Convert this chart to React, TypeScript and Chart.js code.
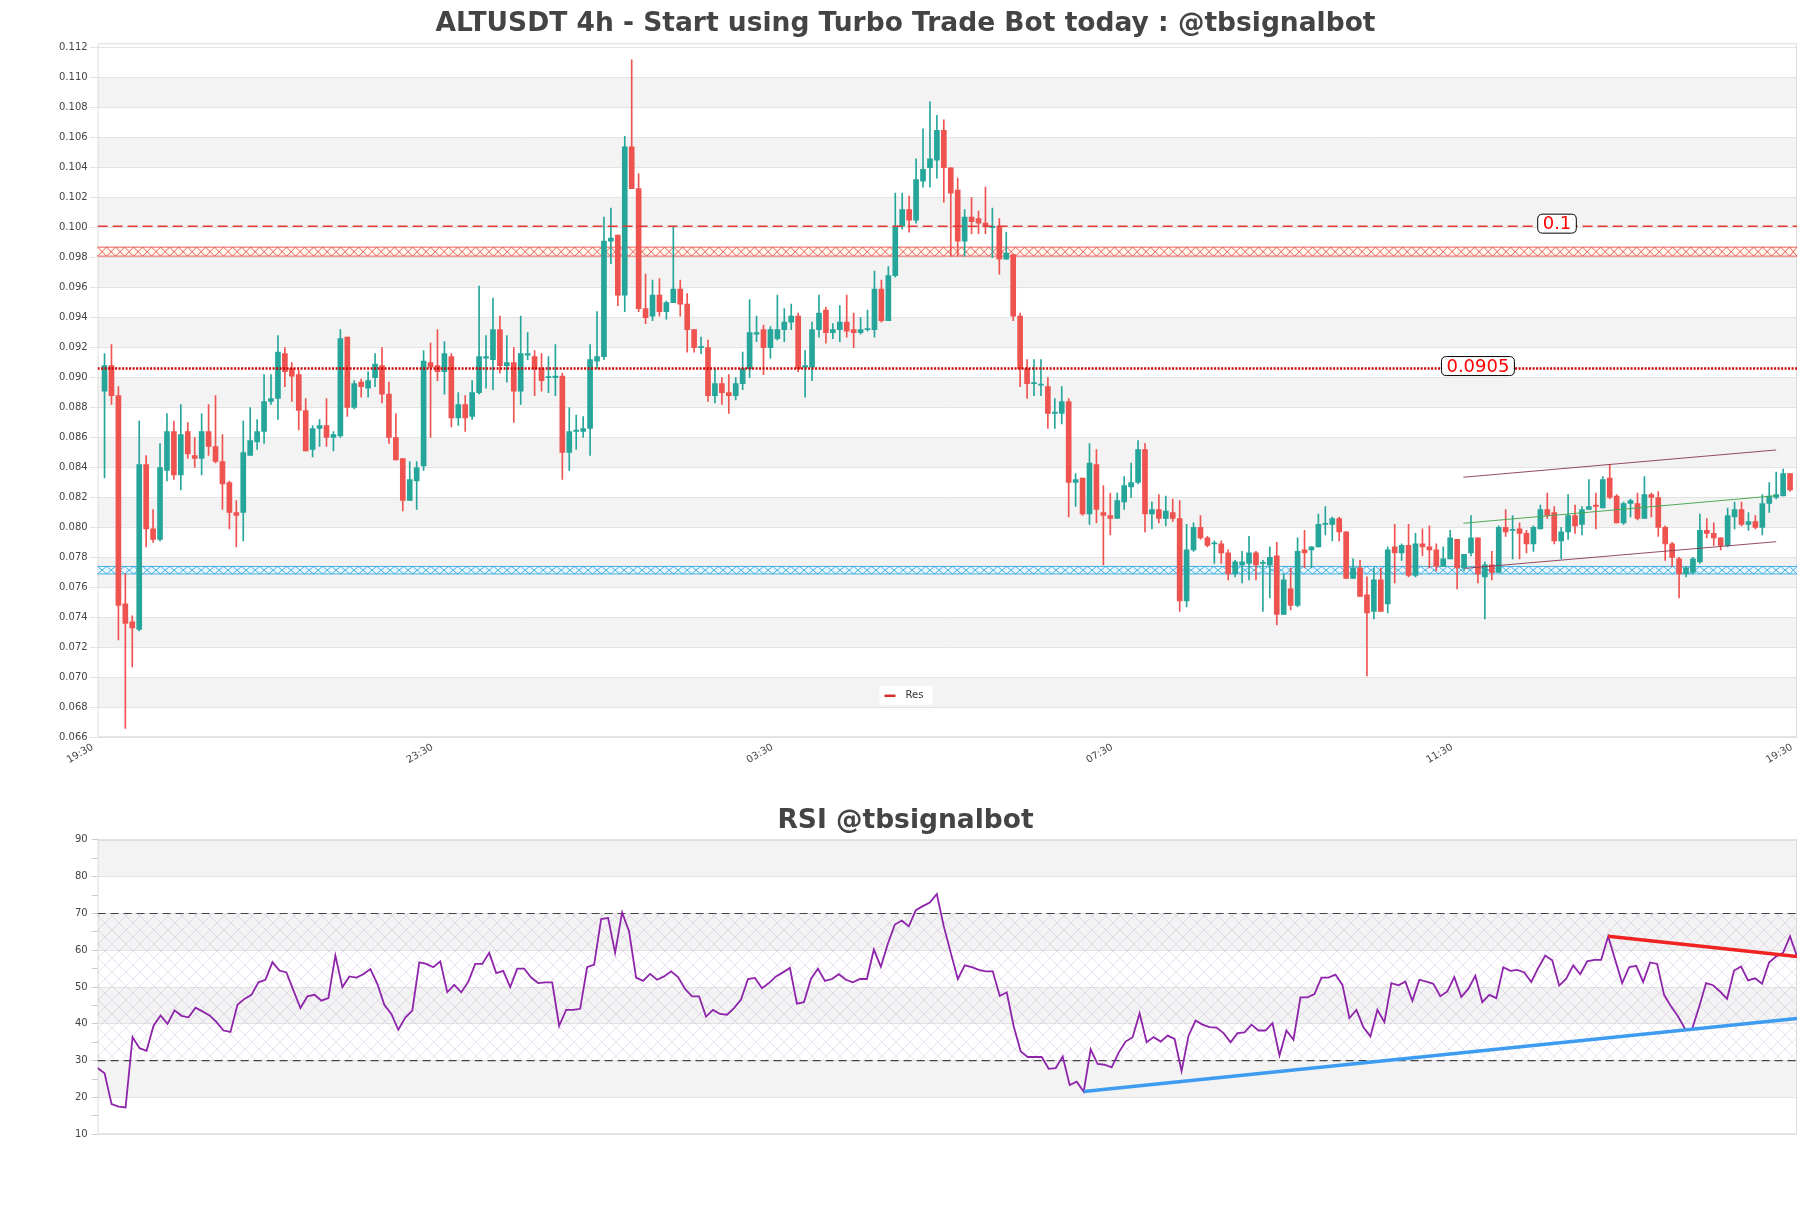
import React, { useEffect, useRef } from 'react';
import Chart from 'chart.js/auto';

const FONT = '"DejaVu Sans", "Liberation Sans", sans-serif';
const TITLE = 'ALTUSDT 4h - Start using Turbo Trade Bot today : @tbsignalbot';
const RSI_TITLE = 'RSI @tbsignalbot';

const GREEN = '#26a69a';
const RED = '#ef5350';

// x axis tick labels (placed at axis positions; candles sit at 1..N)
const xTickLabels = ['19:30', '23:30', '03:30', '07:30', '11:30', '19:30'];
const xTickPositions = [0, 49, 98, 147, 196, 245];

const priceTicks = [0.066, 0.068, 0.07, 0.072, 0.074, 0.076, 0.078, 0.08, 0.082, 0.084, 0.086, 0.088, 0.09, 0.092, 0.094, 0.096, 0.098, 0.1, 0.102, 0.104, 0.106, 0.108, 0.11, 0.112];
const rsiTicks = [10, 20, 30, 40, 50, 60, 70, 80, 90];

const opens = [
  0.0891, 0.0908, 0.0888, 0.0749, 0.0737, 0.0732, 0.0842, 0.0799, 0.0792, 0.0838,
  0.0864, 0.0835, 0.0864, 0.0848, 0.0846, 0.0864, 0.0854, 0.0844, 0.0830, 0.0810,
  0.0810, 0.0848, 0.0857, 0.0864, 0.0884, 0.0886, 0.0916, 0.0906, 0.0902, 0.0878,
  0.0852, 0.0866, 0.0868, 0.0860, 0.0861, 0.0927, 0.0880, 0.0897, 0.0893, 0.0900,
  0.0908, 0.0889, 0.0860, 0.0846, 0.0818, 0.0831, 0.0841, 0.0910, 0.0908, 0.0904,
  0.0914, 0.0873, 0.0882, 0.0874, 0.0890, 0.0913, 0.0912, 0.0932, 0.0908, 0.0910,
  0.0891, 0.0915, 0.0914, 0.0906, 0.0900, 0.0900, 0.0901, 0.0850, 0.0864, 0.0864,
  0.0866, 0.0911, 0.0914, 0.0991, 0.0995, 0.0955, 0.1054, 0.1026, 0.0946, 0.0941,
  0.0955, 0.0944, 0.0950, 0.0959, 0.0949, 0.0932, 0.0920, 0.0920, 0.0888, 0.0896,
  0.0890, 0.0888, 0.0896, 0.0906, 0.0929, 0.0932, 0.0920, 0.0926, 0.0932, 0.0937,
  0.0941, 0.0907, 0.0907, 0.0932, 0.0945, 0.0930, 0.0932, 0.0937, 0.0932, 0.0930,
  0.0932, 0.0932, 0.0959, 0.0938, 0.0968, 0.1001, 0.1012, 0.1005, 0.1031, 0.1040,
  0.1045, 0.1065, 0.1040, 0.1025, 0.0991, 0.1007, 0.1006, 0.1003, 0.1000, 0.1001,
  0.0979, 0.0982, 0.0941, 0.0906, 0.0896, 0.0895, 0.0894, 0.0876, 0.0876, 0.0884,
  0.0830, 0.0833, 0.0809, 0.0842, 0.0810, 0.0808, 0.0806, 0.0817, 0.0827, 0.0830,
  0.0852, 0.0809, 0.0812, 0.0806, 0.0810, 0.0806, 0.0751, 0.0785, 0.0800, 0.0793,
  0.0789, 0.0789, 0.0783, 0.0769, 0.0775, 0.0776, 0.0783, 0.0776, 0.0775, 0.0781,
  0.0742, 0.0759, 0.0748, 0.0785, 0.0785, 0.0787, 0.0802, 0.0802, 0.0806, 0.0797,
  0.0766, 0.0773, 0.0755, 0.0744, 0.0765, 0.0749, 0.0787, 0.0783, 0.0788, 0.0768,
  0.0789, 0.0787, 0.0785, 0.0774, 0.0779, 0.0792, 0.0773, 0.0783, 0.0793, 0.0767,
  0.0775, 0.0770, 0.0800, 0.0798, 0.0799, 0.0796, 0.0789, 0.0799, 0.0812, 0.0810,
  0.0791, 0.0797, 0.0808, 0.0802, 0.0812, 0.0815, 0.0813, 0.0833, 0.0821, 0.0803,
  0.0816, 0.0816, 0.0806, 0.0822, 0.0820, 0.0800, 0.0789, 0.0779, 0.0769, 0.0770,
  0.0777, 0.0798, 0.0796, 0.0793, 0.0788, 0.0807, 0.0812, 0.0802, 0.0804, 0.0800,
  0.0816, 0.0820, 0.0821, 0.0836,
];

const highs = [
  0.0916, 0.0922, 0.0894, 0.0769, 0.0741, 0.0871, 0.0848, 0.0812, 0.0856, 0.0876,
  0.0871, 0.0882, 0.0870, 0.0860, 0.0876, 0.0882, 0.0888, 0.0862, 0.0831, 0.0818,
  0.0871, 0.0880, 0.0872, 0.0902, 0.0902, 0.0928, 0.0920, 0.0910, 0.0905, 0.0886,
  0.0868, 0.0872, 0.0886, 0.0864, 0.0932, 0.0927, 0.0898, 0.0899, 0.0904, 0.0916,
  0.0920, 0.0897, 0.0876, 0.0846, 0.0844, 0.0844, 0.0918, 0.0923, 0.0932, 0.0924,
  0.0916, 0.0890, 0.0888, 0.0898, 0.0961, 0.0928, 0.0953, 0.0941, 0.0928, 0.0920,
  0.0941, 0.0930, 0.0918, 0.0916, 0.0914, 0.0922, 0.0903, 0.0880, 0.0875, 0.0874,
  0.0922, 0.0944, 0.1007, 0.1013, 0.0995, 0.1061, 0.1112, 0.1036, 0.0969, 0.0965,
  0.0966, 0.0951, 0.1001, 0.0965, 0.0956, 0.0932, 0.0927, 0.0925, 0.0906, 0.0900,
  0.0902, 0.0900, 0.0917, 0.0952, 0.0941, 0.0935, 0.0934, 0.0955, 0.0946, 0.0949,
  0.0943, 0.0918, 0.0937, 0.0955, 0.0947, 0.0936, 0.0948, 0.0955, 0.0943, 0.0940,
  0.0945, 0.0971, 0.0965, 0.0974, 0.1023, 0.1023, 0.1021, 0.1046, 0.1066, 0.1084,
  0.1075, 0.1072, 0.1040, 0.1033, 0.1012, 0.1020, 0.1011, 0.1027, 0.1013, 0.1006,
  0.0997, 0.0982, 0.0943, 0.0912, 0.0912, 0.0912, 0.0900, 0.0886, 0.0894, 0.0886,
  0.0836, 0.0833, 0.0856, 0.0852, 0.0828, 0.0823, 0.0823, 0.0834, 0.0843, 0.0858,
  0.0856, 0.0817, 0.0822, 0.0821, 0.0819, 0.0818, 0.0802, 0.0803, 0.0808, 0.0794,
  0.0791, 0.0791, 0.0785, 0.0778, 0.0784, 0.0794, 0.0784, 0.0778, 0.0787, 0.0790,
  0.0769, 0.0773, 0.0793, 0.0798, 0.0787, 0.0809, 0.0814, 0.0807, 0.0807, 0.0797,
  0.0779, 0.0778, 0.0767, 0.0773, 0.0773, 0.0787, 0.0802, 0.0789, 0.0802, 0.0796,
  0.0799, 0.0801, 0.0789, 0.0787, 0.0798, 0.0792, 0.0782, 0.0808, 0.0793, 0.0777,
  0.0784, 0.0801, 0.0812, 0.0808, 0.0803, 0.0798, 0.0801, 0.0815, 0.0823, 0.0814,
  0.0800, 0.0822, 0.0815, 0.0814, 0.0832, 0.0823, 0.0834, 0.0842, 0.0822, 0.0817,
  0.0819, 0.0823, 0.0834, 0.0823, 0.0824, 0.0801, 0.0790, 0.0780, 0.0774, 0.0780,
  0.0809, 0.0806, 0.0803, 0.0793, 0.0813, 0.0817, 0.0817, 0.0810, 0.0808, 0.0822,
  0.0830, 0.0837, 0.0839, 0.0836,
];

const lows = [
  0.0833, 0.0882, 0.0725, 0.0666, 0.0707, 0.0731, 0.0787, 0.0790, 0.0791, 0.0831,
  0.0832, 0.0825, 0.0846, 0.0840, 0.0835, 0.0848, 0.0843, 0.0812, 0.0799, 0.0787,
  0.0791, 0.0848, 0.0852, 0.0856, 0.0882, 0.0872, 0.0894, 0.0884, 0.0865, 0.0851,
  0.0847, 0.0854, 0.0854, 0.0851, 0.0860, 0.0874, 0.0879, 0.0887, 0.0887, 0.0894,
  0.0883, 0.0856, 0.0845, 0.0811, 0.0818, 0.0812, 0.0838, 0.0860, 0.0898, 0.0889,
  0.0867, 0.0868, 0.0864, 0.0872, 0.0889, 0.0893, 0.0892, 0.0903, 0.0897, 0.0870,
  0.0882, 0.0912, 0.0888, 0.0891, 0.0890, 0.0888, 0.0832, 0.0838, 0.0852, 0.0860,
  0.0848, 0.0906, 0.0912, 0.0976, 0.0948, 0.0944, 0.1026, 0.0944, 0.0936, 0.0938,
  0.0941, 0.0939, 0.0950, 0.0941, 0.0917, 0.0917, 0.0916, 0.0884, 0.0883, 0.0882,
  0.0876, 0.0885, 0.0892, 0.0900, 0.0924, 0.0902, 0.0913, 0.0925, 0.0924, 0.0932,
  0.0904, 0.0887, 0.0898, 0.0927, 0.0923, 0.0926, 0.0924, 0.0927, 0.0920, 0.0929,
  0.0931, 0.0927, 0.0937, 0.0938, 0.0967, 0.0999, 0.0997, 0.1003, 0.1027, 0.1027,
  0.1033, 0.1017, 0.0981, 0.0981, 0.0981, 0.0996, 0.0996, 0.0996, 0.0980, 0.0969,
  0.0979, 0.0938, 0.0894, 0.0886, 0.0888, 0.0888, 0.0866, 0.0866, 0.0869, 0.0807,
  0.0814, 0.0808, 0.0802, 0.0803, 0.0775, 0.0795, 0.0806, 0.0812, 0.0820, 0.0829,
  0.0797, 0.0799, 0.0803, 0.0801, 0.0804, 0.0744, 0.0747, 0.0784, 0.0792, 0.0787,
  0.0776, 0.0776, 0.0765, 0.0767, 0.0763, 0.0765, 0.0765, 0.0744, 0.0753, 0.0735,
  0.0742, 0.0745, 0.0747, 0.0773, 0.0773, 0.0787, 0.0795, 0.0791, 0.0791, 0.0766,
  0.0766, 0.0754, 0.0701, 0.0739, 0.0744, 0.0743, 0.0763, 0.0778, 0.0767, 0.0767,
  0.0781, 0.0773, 0.0771, 0.0774, 0.0779, 0.0759, 0.0771, 0.0781, 0.0763, 0.0739,
  0.0765, 0.0770, 0.0794, 0.0779, 0.0779, 0.0783, 0.0784, 0.0799, 0.0806, 0.0789,
  0.0779, 0.0792, 0.0796, 0.0795, 0.0812, 0.0799, 0.0813, 0.0819, 0.0803, 0.0802,
  0.0807, 0.0805, 0.0806, 0.0807, 0.0794, 0.0778, 0.0774, 0.0753, 0.0767, 0.0769,
  0.0776, 0.0793, 0.0788, 0.0785, 0.0787, 0.0799, 0.0801, 0.0798, 0.0799, 0.0795,
  0.0810, 0.0819, 0.0821, 0.0824,
];

const closes = [
  0.0908, 0.0888, 0.0748, 0.0736, 0.0733, 0.0842, 0.0799, 0.0792, 0.0840, 0.0864,
  0.0835, 0.0862, 0.0849, 0.0846, 0.0864, 0.0854, 0.0844, 0.0829, 0.0810, 0.0808,
  0.0850, 0.0858, 0.0864, 0.0884, 0.0886, 0.0917, 0.0904, 0.0901, 0.0878, 0.0851,
  0.0866, 0.0868, 0.0860, 0.0862, 0.0926, 0.0880, 0.0896, 0.0894, 0.0898, 0.0909,
  0.0889, 0.0860, 0.0845, 0.0818, 0.0832, 0.0840, 0.0911, 0.0907, 0.0904, 0.0916,
  0.0873, 0.0882, 0.0873, 0.0890, 0.0914, 0.0914, 0.0932, 0.0908, 0.0910, 0.0891,
  0.0916, 0.0916, 0.0906, 0.0898, 0.09005, 0.0901, 0.0850, 0.0864, 0.0865, 0.0866,
  0.0912, 0.0914, 0.0991, 0.0993, 0.0955, 0.1054, 0.1026, 0.0946, 0.0940, 0.0955,
  0.0944, 0.0950, 0.0959, 0.0949, 0.0932, 0.0920, 0.09205, 0.0888, 0.0896, 0.0890,
  0.0888, 0.0896, 0.0906, 0.0930, 0.0930, 0.0920, 0.0932, 0.0932, 0.0937, 0.0941,
  0.0906, 0.0908, 0.0932, 0.0943, 0.0930, 0.0932, 0.0937, 0.0931, 0.0930, 0.0932,
  0.09325, 0.0959, 0.0938, 0.0968, 0.1001, 0.1012, 0.1005, 0.1032, 0.1039, 0.1046,
  0.1065, 0.1040, 0.1023, 0.0991, 0.1007, 0.1004, 0.1003, 0.1001, 0.1001, 0.0979,
  0.0983, 0.0941, 0.0906, 0.0896, 0.08965, 0.08955, 0.0876, 0.0877, 0.0884, 0.0830,
  0.0832, 0.0809, 0.0843, 0.0812, 0.0808, 0.0806, 0.0818, 0.0828, 0.0830, 0.0852,
  0.0809, 0.0812, 0.0806, 0.0811, 0.0806, 0.0751, 0.0785, 0.0800, 0.0793, 0.0788,
  0.07895, 0.0783, 0.0769, 0.0777, 0.0777, 0.0783, 0.0775, 0.07765, 0.0780, 0.0742,
  0.0765, 0.0748, 0.0784, 0.0783, 0.0787, 0.0802, 0.08025, 0.0806, 0.0797, 0.0766,
  0.0773, 0.0754, 0.0743, 0.0765, 0.0744, 0.0785, 0.0783, 0.0788, 0.0768, 0.0789,
  0.0787, 0.0785, 0.0774, 0.0779, 0.0793, 0.0773, 0.0782, 0.0793, 0.0769, 0.0775,
  0.0770, 0.0800, 0.0797, 0.07985, 0.0796, 0.0789, 0.0800, 0.0812, 0.0808, 0.0791,
  0.0797, 0.0808, 0.0801, 0.0812, 0.0814, 0.0814, 0.0832, 0.0820, 0.0803, 0.0816,
  0.0818, 0.0806, 0.0822, 0.0820, 0.0800, 0.0789, 0.0780, 0.0769, 0.0773, 0.0779,
  0.0798, 0.0796, 0.0793, 0.0788, 0.0808, 0.0812, 0.0802, 0.0804, 0.0800, 0.0816,
  0.0821, 0.0822, 0.0836, 0.0825,
];

const rsiValues = [
  28, 26.6, 18.2, 17.5, 17.3, 36.4, 33.4, 32.7, 39.5, 42.3,
  40, 43.7, 42.2, 41.8, 44.4, 43.4, 42.3, 40.5, 38.2, 37.8,
  45.2, 46.8, 47.9, 51.3, 52.0, 56.8, 54.5, 54.0, 49.1, 44.3,
  47.5, 47.9, 46.3, 47.0, 58.6, 50.0, 52.9, 52.6, 53.5, 54.9,
  50.9, 45.2, 42.7, 38.4, 41.7, 43.6, 56.7, 56.3, 55.4, 57.0,
  48.6, 50.6, 48.6, 51.4, 56.3, 56.3, 59.3, 53.8, 54.4, 50.0,
  55.0, 55.0, 52.6, 51.1, 51.3, 51.3, 39.5, 43.8, 43.8, 44.1,
  55.4, 56.1, 68.5, 68.8, 59.3, 70.3, 65.1, 52.6, 51.7, 53.6,
  52.0, 52.9, 54.3, 52.7, 49.5, 47.5, 47.5, 42.0, 43.8, 42.7,
  42.5, 44.3, 46.6, 52.2, 52.5, 49.7, 51.1, 52.9, 54.0, 55.2,
  45.5, 45.9, 52.2, 55.0, 51.7, 52.2, 53.5, 52.0, 51.3, 52.2,
  52.2, 60.2, 55.5, 61.8, 67.0, 68.1,
  66.5, 70.9, 72.0, 73.0, 75.3, 66.5, 59.3, 52.2, 55.9, 55.4,
  54.7, 54.3, 54.3, 47.6, 48.6, 39.3, 32.5, 31.0, 31.0, 31.0,
  27.8, 28.0, 31.1, 23.4, 24.3, 21.6, 33.1, 29.1, 28.9, 28.2,
  32.2, 35.2, 36.4, 42.9, 35.0, 36.4, 35.2, 36.8, 35.9, 27.2,
  36.8, 40.9, 39.8, 39.1, 39.0, 37.5, 35.0, 37.5, 37.7, 39.8,
  38.2, 38.2, 40.2, 31.4, 38.2, 35.7, 47.2, 47.2, 48.1, 52.6,
  52.6, 53.4, 50.6, 41.6, 43.8, 39.1, 36.6, 43.8, 40.5, 51.1,
  50.5, 51.5, 46.3, 52.0, 51.5, 50.9, 47.5, 48.8, 52.7, 47.3,
  49.5, 53.1, 45.9, 47.9, 47.0, 55.4, 54.4, 54.7, 54.0, 51.4,
  55.2, 58.6, 57.3, 50.4, 52.3, 55.9, 53.5, 57.0, 57.4, 57.4,
  63.8, 57.4, 51.1, 55.4, 55.8, 51.4, 56.7, 56.3, 47.9, 44.7,
  42.0, 38.6, 38.6, 44.6, 51.1, 50.5, 48.8, 46.8, 54.5, 55.6,
  51.8, 52.4, 50.9, 56.7, 58.3, 59.3, 63.8, 58.3,
];

// levels and zones
const resLevel = 0.1001;
const midLevel = 0.0906;
const resZone = [0.0981, 0.0987];
const supZone = [0.0769, 0.0774];
const levelTags = [
  { text: '0.1', x: 210.4, y: 0.1001 },
  { text: '0.0905', x: 199.0, y: 0.0906 },
];
const channelUpper = [[196.9, 0.08335], [242, 0.08517]];
const channelMid = [[196.9, 0.08028], [242, 0.08212]];
const channelLower = [[197.1, 0.07727], [242, 0.07905]];
const rsiDownTrend = [[216, 63.8], [243, 58.3]];
const rsiUpTrend = [[141, 21.6], [243, 41.5]];
const rsiLevels = [70, 30];
const rsiZone = [30, 70];

const toPts = (arr: number[][]) => arr.map(([x, y]) => ({ x, y }));

function stripes(chart: any, ticks: number[]) {
  const { ctx, chartArea, scales } = chart;
  const y = scales.y;
  ctx.save();
  ctx.fillStyle = '#f3f3f3';
  for (let k = 1; k < ticks.length - 1; k += 2) {
    const top = y.getPixelForValue(ticks[k + 1]);
    const bot = y.getPixelForValue(ticks[k]);
    ctx.fillRect(chartArea.left, top, chartArea.right - chartArea.left, bot - top);
  }
  ctx.restore();
}

function frame(chart: any) {
  const { ctx, chartArea } = chart;
  ctx.save();
  ctx.strokeStyle = '#dcdcdc';
  ctx.lineWidth = 1;
  ctx.strokeRect(chartArea.left + 0.5, chartArea.top + 0.5, chartArea.right - chartArea.left - 1, chartArea.bottom - chartArea.top - 1);
  ctx.restore();
}

function xBand(chart: any, lo: number, hi: number, color: string, fill: string) {
  const { ctx, chartArea, scales } = chart;
  const top = scales.y.getPixelForValue(hi);
  const bottom = scales.y.getPixelForValue(lo);
  const left = chartArea.left;
  const right = chartArea.right;
  ctx.save();
  ctx.fillStyle = fill;
  ctx.fillRect(left, top, right - left, bottom - top);
  ctx.strokeStyle = color;
  ctx.lineWidth = 0.9;
  ctx.beginPath();
  ctx.moveTo(left, top); ctx.lineTo(right, top);
  ctx.moveTo(left, bottom); ctx.lineTo(right, bottom);
  const w = 9;
  for (let x = left; x < right; x += w) {
    const x2 = Math.min(x + w, right);
    ctx.moveTo(x, top); ctx.lineTo(x2, bottom);
    ctx.moveTo(x, bottom); ctx.lineTo(x2, top);
  }
  ctx.stroke();
  ctx.restore();
}

function roundRect(ctx: any, x: number, y: number, w: number, h: number, r: number) {
  ctx.beginPath();
  ctx.moveTo(x + r, y);
  ctx.lineTo(x + w - r, y);
  ctx.quadraticCurveTo(x + w, y, x + w, y + r);
  ctx.lineTo(x + w, y + h - r);
  ctx.quadraticCurveTo(x + w, y + h, x + w - r, y + h);
  ctx.lineTo(x + r, y + h);
  ctx.quadraticCurveTo(x, y + h, x, y + h - r);
  ctx.lineTo(x, y + r);
  ctx.quadraticCurveTo(x, y, x + r, y);
  ctx.closePath();
}

const mainDecor = {
  id: 'mainDecor',
  beforeDraw(chart: any) {
    stripes(chart, priceTicks);
  },
  beforeDatasetsDraw(chart: any) {
    frame(chart);
    xBand(chart, resZone[0], resZone[1], '#e84a47', 'rgba(255,248,235,0.85)');
    xBand(chart, supZone[0], supZone[1], '#2fa6e0', 'rgba(235,247,255,0.85)');
  },
  afterDatasetsDraw(chart: any) {
    const { ctx, scales } = chart;
    ctx.save();
    ctx.font = '18px ' + FONT;
    ctx.textAlign = 'center';
    ctx.textBaseline = 'middle';
    for (const t of levelTags) {
      const cx = scales.x.getPixelForValue(t.x);
      const cy = scales.y.getPixelForValue(t.y) - 2.5;
      const w = ctx.measureText(t.text).width + 10;
      const h = 19;
      roundRect(ctx, cx - w / 2, cy - h / 2, w, h, 5);
      ctx.fillStyle = '#ffffff';
      ctx.fill();
      ctx.strokeStyle = '#000000';
      ctx.lineWidth = 1;
      ctx.stroke();
      ctx.fillStyle = '#ff0000';
      ctx.fillText(t.text, cx, cy + 1);
    }
    ctx.restore();
  },
  afterDraw(chart: any) {
    const { ctx, chartArea, width } = chart;
    const cx = width / 2;
    const cy = chartArea.bottom - 42.5;
    ctx.save();
    roundRect(ctx, cx - 26, cy - 9, 53, 19, 3);
    ctx.fillStyle = '#ffffff';
    ctx.fill();
    ctx.strokeStyle = '#d32f2f';
    ctx.lineWidth = 2.5;
    ctx.beginPath();
    ctx.moveTo(cx - 21, cy + 1);
    ctx.lineTo(cx - 10, cy + 1);
    ctx.stroke();
    ctx.fillStyle = '#333333';
    ctx.font = '10px ' + FONT;
    ctx.textAlign = 'left';
    ctx.textBaseline = 'middle';
    ctx.fillText('Res', cx, cy + 0.5);
    ctx.restore();
  },
};

let latticeCache: any = null;
function lattice(ctx: any) {
  if (latticeCache) return latticeCache;
  const c = document.createElement('canvas');
  c.width = 14; c.height = 14;
  const g = c.getContext('2d') as CanvasRenderingContext2D;
  g.strokeStyle = 'rgba(175,140,200,0.26)';
  g.lineWidth = 1;
  g.beginPath();
  g.moveTo(0, 0); g.lineTo(14, 14);
  g.moveTo(14, 0); g.lineTo(0, 14);
  g.stroke();
  latticeCache = ctx.createPattern(c, 'repeat');
  return latticeCache;
}

const rsiDecor = {
  id: 'rsiDecor',
  beforeDraw(chart: any) {
    stripes(chart, rsiTicks);
  },
  beforeDatasetsDraw(chart: any) {
    const { ctx, chartArea, scales } = chart;
    frame(chart);
    const top = scales.y.getPixelForValue(rsiZone[1]);
    const bot = scales.y.getPixelForValue(rsiZone[0]);
    ctx.save();
    ctx.fillStyle = lattice(ctx);
    ctx.fillRect(chartArea.left, top, chartArea.right - chartArea.left, bot - top);
    ctx.restore();
  },
};

function mainConfig(): any {
  const xs = closes.map((_, i) => i + 1);
  const colors = closes.map((c, i) => (c >= opens[i] ? GREEN : RED));
  const hline = (y: number) => [{ x: 0, y }, { x: 245, y }];
  return {
    type: 'bar',
    data: {
      datasets: [
        { type: 'line', label: 'chUp', data: toPts(channelUpper), borderColor: 'rgba(135,55,85,0.9)', borderWidth: 1, pointRadius: 0 },
        { type: 'line', label: 'chMid', data: toPts(channelMid), borderColor: 'rgba(70,165,80,0.95)', borderWidth: 1, pointRadius: 0 },
        { type: 'line', label: 'chLow', data: toPts(channelLower), borderColor: 'rgba(135,55,85,0.9)', borderWidth: 1, pointRadius: 0 },
        { type: 'line', label: 'Res', data: hline(resLevel), borderColor: '#e53935', borderDash: [10, 5], borderWidth: 1.5, pointRadius: 0 },
        { type: 'line', label: 'Mid', data: hline(midLevel), borderColor: '#cc0000', borderDash: [2, 1.5], borderWidth: 2.5, pointRadius: 0 },
        {
          type: 'bar', label: 'body',
          data: xs.map((x, i) => ({ x, y: [opens[i], closes[i]] })),
          backgroundColor: colors, borderWidth: 0, barThickness: 5, minBarLength: 1, grouped: false,
        },
        {
          type: 'bar', label: 'wick',
          data: xs.map((x, i) => ({ x, y: [lows[i], highs[i]] })),
          backgroundColor: colors, borderWidth: 0, barThickness: 1, minBarLength: 1, grouped: false,
        },
      ],
    },
    options: {
      responsive: false,
      animation: false,
      events: [],
      layout: { padding: { left: 14, right: 14, top: 0, bottom: 0 } },
      plugins: {
        legend: { display: false },
        tooltip: { enabled: false },
        title: {
          display: true, text: TITLE, color: '#444444',
          font: { family: FONT, size: 26.5, weight: 'bold' },
          padding: { top: 8.5, bottom: 3 },
        },
      },
      scales: {
        x: {
          type: 'linear', min: 0, max: 245, offset: false,
          afterBuildTicks: (s: any) => { s.ticks = xTickPositions.map((v) => ({ value: v })); },
          afterFit: (s: any) => { s.height = 52.7; },
          grid: { display: false, drawTicks: false },
          border: { display: false },
          ticks: {
            autoSkip: false, minRotation: 30, maxRotation: 30, padding: 4, labelOffset: -5,
            color: '#444444', font: { family: FONT, size: 10 },
            callback: (_v: any, i: number) => xTickLabels[i],
          },
        },
        y: {
          type: 'linear', min: 0.066, max: 0.1123,
          afterBuildTicks: (s: any) => { s.ticks = priceTicks.map((v) => ({ value: v })); },
          afterFit: (s: any) => { s.width = 83.6; },
          grid: { color: '#e3e3e3', tickColor: '#e3e3e3', tickLength: 8 },
          border: { display: false },
          ticks: {
            autoSkip: false, padding: 2, color: '#444444', font: { family: FONT, size: 10 },
            callback: (v: any) => Number(v).toFixed(3),
          },
        },
      },
    },
    plugins: [mainDecor],
  };
}

function rsiConfig(): any {
  const hline = (y: number) => [{ x: 0, y }, { x: rsiValues.length - 1, y }];
  return {
    type: 'line',
    data: {
      datasets: [
        { label: 'down', data: toPts(rsiDownTrend), borderColor: '#f02222', borderWidth: 3.5, pointRadius: 0 },
        { label: 'up', data: toPts(rsiUpTrend), borderColor: '#3d9cf0', borderWidth: 3.5, pointRadius: 0 },
        { label: 'RSI', data: rsiValues.map((v, j) => ({ x: j, y: v })), borderColor: '#8e24aa', borderWidth: 1.8, pointRadius: 0, tension: 0 },
        { label: 'ob', data: hline(rsiLevels[0]), borderColor: '#444444', borderDash: [8, 5], borderWidth: 1.2, pointRadius: 0 },
        { label: 'os', data: hline(rsiLevels[1]), borderColor: '#444444', borderDash: [8, 5], borderWidth: 1.2, pointRadius: 0 },
      ],
    },
    options: {
      responsive: false,
      animation: false,
      events: [],
      layout: { padding: { left: 14, right: 14, top: 0, bottom: 73.7 } },
      plugins: {
        legend: { display: false },
        tooltip: { enabled: false },
        title: {
          display: true, text: RSI_TITLE, color: '#444444',
          font: { family: FONT, size: 26.5, weight: 'bold' },
          padding: { top: 15.5, bottom: 2.6 },
        },
      },
      scales: {
        x: { type: 'linear', min: 0, max: rsiValues.length - 1, display: false },
        y: {
          type: 'linear', min: 10, max: 90,
          afterFit: (s: any) => { s.width = 83.6; },
          grid: {
            color: (c: any) => (c.tick && c.tick.value % 10 === 0 ? '#e3e3e3' : 'rgba(0,0,0,0)'),
            tickColor: '#cccccc', tickLength: 6,
          },
          border: { display: false },
          ticks: {
            stepSize: 5, autoSkip: false, padding: 4, color: '#444444', font: { family: FONT, size: 10 },
            callback: (v: any) => (Number(v) % 10 === 0 ? String(v) : ''),
          },
        },
      },
    },
    plugins: [rsiDecor],
  };
}

export default function App() {
  const mainRef = useRef<HTMLCanvasElement>(null);
  const rsiRef = useRef<HTMLCanvasElement>(null);
  useEffect(() => {
    const c1 = new Chart(mainRef.current as HTMLCanvasElement, mainConfig());
    const c2 = new Chart(rsiRef.current as HTMLCanvasElement, rsiConfig());
    return () => {
      c1.destroy();
      c2.destroy();
    };
  }, []);
  return (
    <div style={{ position: 'absolute', left: 0, top: 0, width: 1811, height: 1208, background: '#ffffff' }}>
      <canvas ref={mainRef} width={1811} height={790} style={{ display: 'block', width: 1811, height: 790 }} />
      <canvas ref={rsiRef} width={1811} height={418} style={{ display: 'block', width: 1811, height: 418 }} />
    </div>
  );
}
